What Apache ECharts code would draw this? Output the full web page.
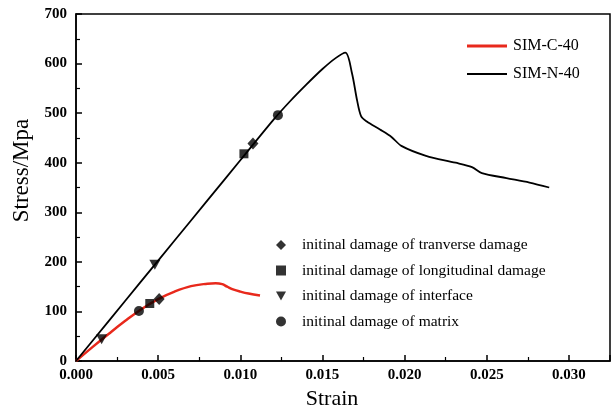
<!DOCTYPE html>
<html>
<head>
<meta charset="utf-8">
<script src="https://cdn.jsdelivr.net/npm/echarts@6/dist/echarts.min.js"></script>
<style>
  html, body { margin: 0; padding: 0; background: #fff; }
  #chart { width: 612px; height: 412px; }
</style>
</head>
<body>
<div id="chart"></div>
<script>
// stress-strain curves (strain, MPa)
const simC40 = [
  [0, 0], [0.001, 28], [0.002, 55], [0.003, 81], [0.004, 105], [0.005, 125],
  [0.006, 140], [0.007, 151], [0.008, 156], [0.0085, 157], [0.0089, 155],
  [0.0092, 150], [0.0096, 144], [0.010, 140], [0.0105, 136], [0.0112, 132]
]
const simN40 = [
  [0, 0], [0.002, 81], [0.004, 162], [0.006, 243], [0.008, 324], [0.010, 405],
  [0.012, 486], [0.013, 523], [0.014, 557], [0.015, 589], [0.0158, 611], [0.0164, 622],
  [0.0168, 580], [0.0171, 527], [0.01735, 494], [0.0177, 483], [0.0185, 467],
  [0.0192, 452], [0.0198, 434], [0.0213, 414], [0.0231, 400], [0.0241, 391],
  [0.0247, 379], [0.0262, 369], [0.0276, 360], [0.0288, 350]
]

// initial damage points
const transverseDmg = [[0.00506, 125], [0.01077, 439]]
const longitudinalDmg = [[0.00449, 116], [0.01022, 418]]
const interfaceDmg = [[0.00156, 44], [0.0048, 194]]
const matrixDmg = [[0.00383, 101], [0.01229, 496]]

const xTicks = { min: 0, max: 0.0325, interval: 0.005 }
const yTicks = { min: 0, max: 700, interval: 100 }

const downTriangle = 'path://M0,0 L10,0 L5,9 Z'
const serif = 'Liberation Serif'

const chart = echarts.init(document.getElementById('chart'))

const axisCommon = {
  axisLine: { lineStyle: { color: '#000', width: 1.5 } },
  axisTick: { inside: true, length: 6, lineStyle: { color: '#000', width: 1.5 } },
  minorTick: { show: true, splitNumber: 2, length: 4, lineStyle: { color: '#000', width: 1.2 } },
  splitLine: { show: false },
  axisLabel: { color: '#000', fontFamily: serif, fontWeight: 'bold', fontSize: 15 }
}

const scatterStyle = { color: '#000' }

const option = {
  backgroundColor: '#fff',
  animation: false,
  grid: {
    left: 76, right: 2, top: 14, bottom: 51,
    outerBoundsMode: 'none',
    show: true, borderColor: '#000', borderWidth: 1.5
  },
  legend: [{
    data: [
      { name: 'SIM-C-40', icon: 'path://M0,0 H40 V3 H0 Z', itemStyle: { color: '#e8291c' } },
      { name: 'SIM-N-40', icon: 'path://M0,0 H40 V2 H0 Z', itemStyle: { color: '#000' } }
    ],
    orient: 'vertical',
    left: 467, top: 38, padding: 0,
    itemWidth: 40, itemHeight: 3, itemGap: 12,
    textStyle: { fontFamily: serif, fontSize: 16, color: '#000', padding: [0, 0, 0, 1] }
  }, {
    data: [
      { name: 'initinal damage of tranverse damage', icon: 'diamond' },
      { name: 'initinal damage of longitudinal damage', icon: 'rect' },
      { name: 'initinal damage of interface', icon: downTriangle },
      { name: 'initinal damage of matrix', icon: 'circle' }
    ],
    orient: 'vertical',
    left: 276, top: 237, padding: 0,
    itemWidth: 10, itemHeight: 10, itemGap: 9.5,
    textStyle: { fontFamily: serif, fontSize: 15.5, color: '#000', padding: [0, 0, 0, 11] }
  }],
  xAxis: {
    type: 'value',
    ...xTicks,
    ...axisCommon,
    axisLabel: {
      ...axisCommon.axisLabel,
      margin: 7,
      showMaxLabel: false,
      formatter: v => v.toFixed(3)
    },
    name: 'Strain',
    nameLocation: 'middle',
    nameGap: 27,
    nameTextStyle: { fontFamily: serif, fontSize: 22, color: '#000', padding: [0, 22, 0, 0] }
  },
  yAxis: {
    type: 'value',
    ...yTicks,
    ...axisCommon,
    axisLabel: { ...axisCommon.axisLabel, margin: 9 },
    name: 'Stress/Mpa',
    nameLocation: 'middle',
    nameGap: 43,
    nameTextStyle: { fontFamily: serif, fontSize: 23, color: '#000', padding: [0, 0, 0, 34] }
  },
  series: [{
    name: 'SIM-C-40',
    type: 'line',
    data: simC40,
    smooth: 0.4,
    symbol: 'none',
    lineStyle: { color: '#e8291c', width: 2.5 },
    itemStyle: { color: '#e8291c' },
    z: 2
  }, {
    name: 'SIM-N-40',
    type: 'line',
    data: simN40,
    smooth: 0.3,
    symbol: 'none',
    lineStyle: { color: '#000', width: 1.8 },
    itemStyle: { color: '#000' },
    z: 2
  }, {
    name: 'initinal damage of tranverse damage',
    type: 'scatter',
    data: transverseDmg,
    symbol: 'diamond',
    symbolSize: [11, 12],
    itemStyle: scatterStyle,
    z: 3
  }, {
    name: 'initinal damage of longitudinal damage',
    type: 'scatter',
    data: longitudinalDmg,
    symbol: 'rect',
    symbolSize: 9,
    itemStyle: scatterStyle,
    z: 3
  }, {
    name: 'initinal damage of interface',
    type: 'scatter',
    data: interfaceDmg,
    symbol: downTriangle,
    symbolSize: [11, 10],
    itemStyle: scatterStyle,
    z: 3
  }, {
    name: 'initinal damage of matrix',
    type: 'scatter',
    data: matrixDmg,
    symbol: 'circle',
    symbolSize: 10,
    itemStyle: scatterStyle,
    z: 3
  }]
}

chart.setOption(option)
</script>
</body>
</html>
